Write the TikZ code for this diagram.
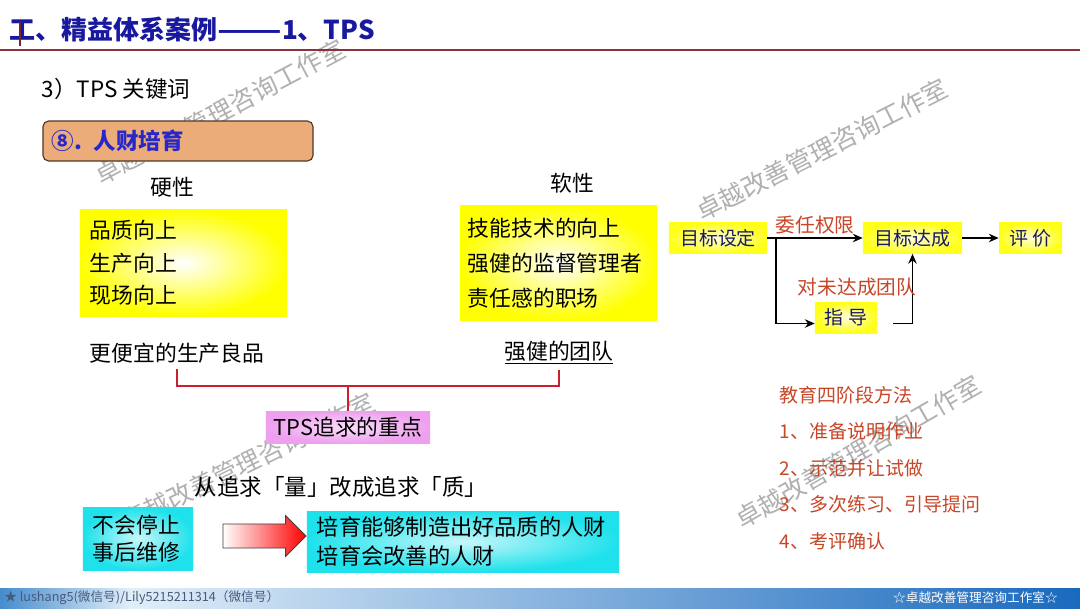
\documentclass[tikz,border=0pt]{standalone}
\usepackage{fontspec}
\setmainfont{Noto Sans CJK SC}
\usetikzlibrary{arrows.meta, positioning, shapes.arrows, calc}
\definecolor{titleblue}{RGB}{25,25,160}
\definecolor{rulered}{RGB}{140,50,60}
\definecolor{headorange}{RGB}{236,172,122}
\definecolor{headedge}{RGB}{80,55,40}
\definecolor{labelblue}{RGB}{40,40,200}
\definecolor{brkred}{RGB}{205,30,45}
\definecolor{flowred}{RGB}{200,70,40}
\definecolor{flownavy}{RGB}{25,25,100}
\definecolor{pinkbox}{RGB}{238,160,238}
\definecolor{cyanbox}{RGB}{30,225,235}
\definecolor{markgray}{RGB}{150,150,150}
\definecolor{footA}{RGB}{70,140,205}
\definecolor{footB}{RGB}{225,238,248}
\definecolor{footC}{RGB}{25,105,190}
\definecolor{foottext}{RGB}{70,90,125}
\pgfdeclarehorizontalshading{footbar}{100bp}{color(0bp)=(footA); color(25bp)=(footA); color(31bp)=(footB); color(75bp)=(footC); color(100bp)=(footC)}

\begin{document}
\begin{tikzpicture}[
      x=0.025cm, y=-0.025cm,
      plain/.style={inner sep=1pt, font={\fontsize{15.5pt}{20pt}\selectfont}},
      ybox/.style={shading=radial, inner color=white, outer color=yellow, inner ysep=0pt, align=left,
        font={\fontsize{15.5pt}{23pt}\selectfont}},
      cbox/.style={shading=radial, inner color=cyanbox!25, outer color=cyanbox, inner ysep=0pt, align=left,
        inner xsep=0.25cm, font={\fontsize{15.5pt}{19.5pt}\selectfont}},
      flowbox/.style={shading=radial, inner color=yellow!15, outer color=yellow!90, inner sep=0pt,
        minimum height=0.775cm, text=flownavy, font={\fontsize{13.5pt}{16pt}\selectfont}},
      fred/.style={text=flowred, inner sep=1pt, font={\fontsize{13.5pt}{26pt}\selectfont}},
      flow/.style={line width=1.4pt, -{Stealth[length=7pt, width=6pt]}},
      brk/.style={line width=1.8pt, brkred},
      wmark/.style={text=markgray, opacity=0.75, font={\fontsize{18pt}{20pt}\selectfont}},
      foot/.style={inner sep=0pt, font={\fontsize{9pt}{10pt}\selectfont}}
    ]
      \useasboundingbox (0,0) rectangle (1080,608);
      \fill[white] (0,0) rectangle (1080,608);

      % Watermarks
      \foreach \x/\y/\a in {220/112/28, 822/150/27, 248/462/26, 858/452/30} {
        \node[wmark, rotate=\a] at (\x,\y) {卓越改善管理咨询工作室};
      }

      % Title
      \node[anchor=west, inner sep=0pt, text=titleblue, font={\fontsize{18.5pt}{20pt}\selectfont\bfseries}] (ttl) at (9,30) {工、精益体系案例\scalebox{1.45}[1]{——}1、TPS};
      \draw[rulered!80!black, line width=1.4pt] (20,22) -- (20,46);
      \draw[rulered, line width=1.2pt] (0,50) -- (1080,50);
      \node[plain, anchor=west, font={\fontsize{16pt}{18pt}\selectfont}] (kw) at (40,89) {3）TPS 关键词};
      \node[draw=headedge, line width=0.8pt, fill=headorange, rounded corners=4pt, minimum width=6.75cm, minimum height=1cm,
        text width=6.3cm, inner xsep=0.225cm, align=left, text=labelblue, font={\fontsize{16pt}{18pt}\selectfont\bfseries}] (hd) at (178,141) {⑧. 人财培育};

      % Hard side
      \node[plain] (hardlbl) at (172,187) {硬性};
      \node[ybox, minimum width=5.175cm, minimum height=2.65cm, text width=4.675cm, inner xsep=0.25cm] (hard) at (183.5,263) {品质向上\\生产向上\\现场向上};
      \node[plain] (cheap) at (177,353) {更便宜的生产良品};

      % Soft side
      \node[plain] (softlbl) at (572,183) {软性};
      \node[ybox, minimum width=4.925cm, minimum height=2.85cm, text width=4.525cm, inner xsep=0.2cm,
        font={\fontsize{15.5pt}{24.8pt}\selectfont}] (soft) at (558.5,263) {技能技术的向上\\强健的监督管理者\\责任感的职场};
      \node[plain] (team) at (559,353) {\underline{强健的团队}};

      % Focus bracket
      \node[shading=radial, inner color=pinkbox!35, outer color=pinkbox, minimum width=4.1cm, minimum height=0.8cm,
        inner sep=0pt, font={\fontsize{15.5pt}{18pt}\selectfont}] (focus) at (348,427) {TPS追求的重点};
      \draw[brk] ([yshift=-3pt]cheap.south) -- ++(0,17) -| ([yshift=-3pt]team.south);
      \draw[brk] (focus.north) -- ++(0,-26);

      % From quantity to quality
      \node[plain, font={\fontsize{16pt}{18pt}\selectfont}] (shift) at (341,487) {从追求「量」改成追求「质」};
      \node[cbox, minimum width=2.75cm, minimum height=1.575cm, text width=2.25cm] (stop) at (138,538.5) {不会停止\\事后维修};
      \node[single arrow, draw=black!75, line width=0.6pt, left color=white, right color=red, minimum height=2.075cm,
        inner xsep=0pt, inner ysep=0.29cm, single arrow head extend=0.21cm] (turn) at (258.5,536) {};
      \node[cbox, minimum width=7.8cm, minimum height=1.525cm, text width=7.3cm, font={\fontsize{15.8pt}{20pt}\selectfont}] (quality) at (463,541.5) {培育能够制造出好品质的人财\\培育会改善的人财};

      % Target flow
      \node[flowbox, minimum width=2.45cm] (set) at (718,238) {目标设定};
      \node[flowbox, minimum width=2.475cm] (reach) at (912.5,238) {目标达成};
      \node[flowbox, minimum width=1.575cm] (eval) at (1030.5,238) {评 价};
      \node[flowbox, minimum width=1.55cm] (guide) at (846,317.5) {指 导};
      \draw[flow] (set.east) -- (reach.west);
      \draw[flow] ($(set.east)+(9,0)$) |- ($(guide.west)+(0,6)$);
      \draw[flow] ($(guide.east)+(16,6)$) -| (reach.south);
      \draw[flow] (reach.east) -- (eval.west);
      \node[fred, font={\fontsize{14pt}{16pt}\selectfont}] (lbltask) at (815,225) {委任权限};
      \node[fred, font={\fontsize{14pt}{16pt}\selectfont}] (lblteam) at (857,287) {对未达成团队};

      % Teaching steps
      \node[fred, anchor=west, align=left] (steps) at (778,468) {教育四阶段方法\\1、准备说明作业\\2、示范并让试做\\3、多次练习、引导提问\\4、考评确认};

      % Footer
      \shade[shading=footbar] (0,588) rectangle (1080,608);
      \node[foot, anchor=west, text=foottext] (footl) at (4,598) {★ lushang5(微信号)/Lily5215211314（微信号）};
      \node[foot, anchor=east, text=white] (footr) at (1058,598) {☆卓越改善管理咨询工作室☆};
    \end{tikzpicture}
\end{document}
